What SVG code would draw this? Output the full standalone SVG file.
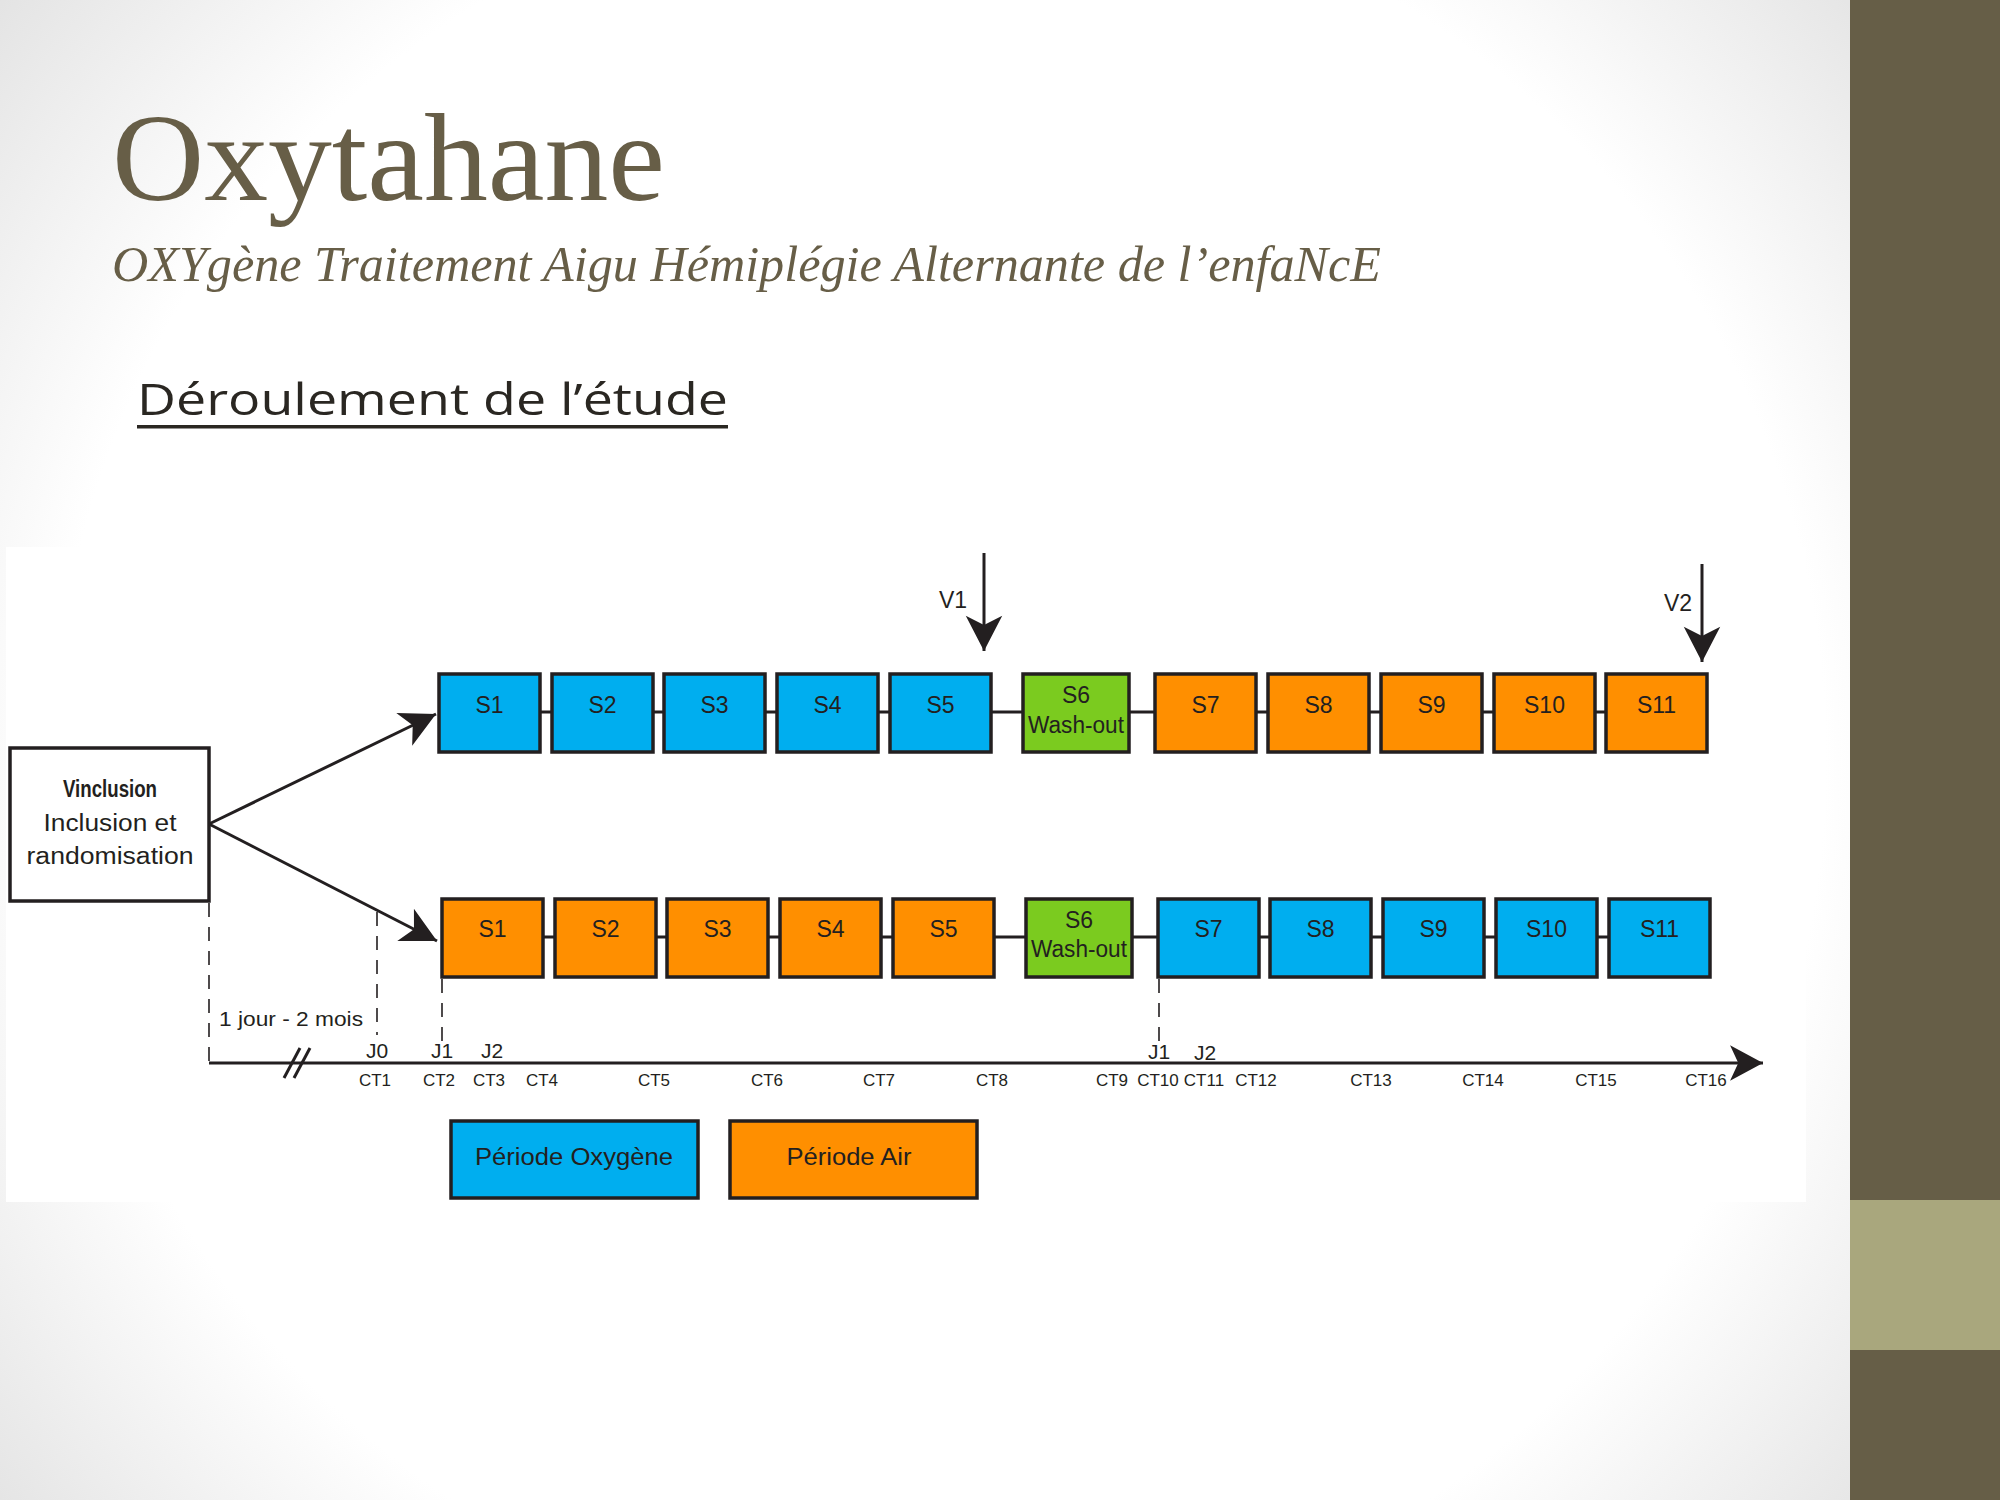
<svg xmlns="http://www.w3.org/2000/svg" width="2000" height="1500" viewBox="0 0 2000 1500">
<defs>
<radialGradient id="bg" gradientUnits="userSpaceOnUse" cx="940" cy="760" r="1230">
<stop offset="0" stop-color="#ffffff"/>
<stop offset="0.72" stop-color="#ffffff"/>
<stop offset="1" stop-color="#e2e2e2"/>
</radialGradient>
<marker id="ah" markerUnits="userSpaceOnUse" markerWidth="40" markerHeight="40" viewBox="-32 -17 34 34" refX="0" refY="0" orient="auto">
<path d="M0,0 L-30,-15.5 L-22,0 L-30,15.5 Z" fill="#231f20"/>
</marker>
<marker id="ah2" markerUnits="userSpaceOnUse" markerWidth="40" markerHeight="40" viewBox="-32 -17 34 34" refX="0" refY="0" orient="auto">
<path d="M0,0 L-28,-15 L-21,0 L-28,15 Z" fill="#231f20"/>
</marker>
<style>
.box{stroke:#231f20;stroke-width:3.5}
.ox{fill:#00aeef}
.air{fill:#ff8f00}
.wo{fill:#7bcb1f}
.lbl{font-family:"Liberation Sans Narrow","Liberation Sans",Arial,sans-serif;font-size:23px;fill:#231f20;text-anchor:middle}
.tl{font-family:"Liberation Sans Narrow","Liberation Sans",Arial,sans-serif;font-size:17px;fill:#231f20;text-anchor:middle}
.jl{font-family:"Liberation Sans Narrow","Liberation Sans",Arial,sans-serif;font-size:21px;fill:#231f20;text-anchor:middle}
.ln{stroke:#231f20;stroke-width:3;fill:none}
.dash{stroke:#231f20;stroke-width:1.6;stroke-dasharray:14 10;fill:none}
</style>
</defs>
<rect x="0" y="0" width="2000" height="1500" fill="url(#bg)"/>
<rect x="6" y="547" width="1800" height="655" fill="#ffffff"/>
<rect x="1850" y="0" width="150" height="1500" fill="#665e47"/>
<rect x="1850" y="1200" width="150" height="150" fill="#a9a77d"/>

<g id="title">
<text x="112" y="200" font-family="'Liberation Serif','Times New Roman',serif" font-size="125" fill="#675e47" textLength="553" lengthAdjust="spacingAndGlyphs">Oxytahane</text>
<text x="112" y="281" font-family="'Liberation Serif','Times New Roman',serif" font-style="italic" font-size="50" fill="#675e47" textLength="1269" lengthAdjust="spacingAndGlyphs">OXYgène Traitement Aigu Hémiplégie Alternante de l’enfaNcE</text>
<text x="137" y="415" font-family="'Open Sans','Liberation Sans',sans-serif" font-size="44" fill="#2a2722" textLength="591" lengthAdjust="spacingAndGlyphs">Déroulement de l’étude</text>
<rect x="137" y="425" width="591" height="3.5" fill="#2a2722"/>
</g>

<g id="connectors">
<line class="ln" x1="209" y1="824" x2="436" y2="714" marker-end="url(#ah)"/>
<line class="ln" x1="209" y1="824" x2="437" y2="941" marker-end="url(#ah)"/>
<line class="ln" x1="540" y1="712" x2="1606" y2="712"/>
<line class="ln" x1="543" y1="937" x2="1609" y2="937"/>
<line class="ln" stroke-width="2.5" x1="984" y1="553" x2="984" y2="651" marker-end="url(#ah)"/>
<line class="ln" stroke-width="2.5" x1="1702" y1="564" x2="1702" y2="662" marker-end="url(#ah)"/>
<line class="ln" x1="209" y1="1063" x2="1763" y2="1063" marker-end="url(#ah2)"/>
<line class="ln" stroke-width="2.5" x1="284" y1="1078" x2="300" y2="1048"/>
<line class="ln" stroke-width="2.5" x1="294" y1="1078" x2="310" y2="1048"/>
<line class="dash" x1="209" y1="903" x2="209" y2="1062"/>
<line class="dash" x1="377" y1="912" x2="377" y2="1035"/>
<line class="dash" x1="442" y1="979" x2="442" y2="1042"/>
<line class="dash" x1="1159" y1="979" x2="1159" y2="1042"/>
</g>

<g id="inclusion">
<rect x="10" y="748" width="199" height="153" fill="#ffffff" class="box"/>
<text x="110" y="797" class="lbl" font-size="24" font-weight="bold" textLength="94" lengthAdjust="spacingAndGlyphs">Vinclusion</text>
<text x="110" y="831" class="lbl" font-size="24" font-family="'Open Sans','Liberation Sans',sans-serif" textLength="133" lengthAdjust="spacingAndGlyphs">Inclusion et</text>
<text x="110" y="864" class="lbl" font-size="24" font-family="'Open Sans','Liberation Sans',sans-serif" textLength="167" lengthAdjust="spacingAndGlyphs">randomisation</text>
</g>

<g id="v1"><text x="953" y="608" class="lbl">V1</text></g>
<g id="v2"><text x="1678" y="611" class="lbl">V2</text></g>

<g id="row1">
<g id="a-s1"><rect class="box ox" x="439" y="674" width="101" height="78"/><text class="lbl" x="489.5" y="713">S1</text></g>
<g id="a-s2"><rect class="box ox" x="552" y="674" width="101" height="78"/><text class="lbl" x="602.5" y="713">S2</text></g>
<g id="a-s3"><rect class="box ox" x="664" y="674" width="101" height="78"/><text class="lbl" x="714.5" y="713">S3</text></g>
<g id="a-s4"><rect class="box ox" x="777" y="674" width="101" height="78"/><text class="lbl" x="827.5" y="713">S4</text></g>
<g id="a-s5"><rect class="box ox" x="890" y="674" width="101" height="78"/><text class="lbl" x="940.5" y="713">S5</text></g>
<g id="a-s6"><rect class="box wo" x="1023" y="674" width="106" height="78"/><text class="lbl" x="1076" y="703">S6</text><text class="lbl" x="1076" y="733" textLength="96" lengthAdjust="spacingAndGlyphs">Wash-out</text></g>
<g id="a-s7"><rect class="box air" x="1155" y="674" width="101" height="78"/><text class="lbl" x="1205.5" y="713">S7</text></g>
<g id="a-s8"><rect class="box air" x="1268" y="674" width="101" height="78"/><text class="lbl" x="1318.5" y="713">S8</text></g>
<g id="a-s9"><rect class="box air" x="1381" y="674" width="101" height="78"/><text class="lbl" x="1431.5" y="713">S9</text></g>
<g id="a-s10"><rect class="box air" x="1494" y="674" width="101" height="78"/><text class="lbl" x="1544.5" y="713">S10</text></g>
<g id="a-s11"><rect class="box air" x="1606" y="674" width="101" height="78"/><text class="lbl" x="1656.5" y="713">S11</text></g>
</g>

<g id="row2">
<g id="b-s1"><rect class="box air" x="442" y="899" width="101" height="78"/><text class="lbl" x="492.5" y="937">S1</text></g>
<g id="b-s2"><rect class="box air" x="555" y="899" width="101" height="78"/><text class="lbl" x="605.5" y="937">S2</text></g>
<g id="b-s3"><rect class="box air" x="667" y="899" width="101" height="78"/><text class="lbl" x="717.5" y="937">S3</text></g>
<g id="b-s4"><rect class="box air" x="780" y="899" width="101" height="78"/><text class="lbl" x="830.5" y="937">S4</text></g>
<g id="b-s5"><rect class="box air" x="893" y="899" width="101" height="78"/><text class="lbl" x="943.5" y="937">S5</text></g>
<g id="b-s6"><rect class="box wo" x="1026" y="899" width="106" height="78"/><text class="lbl" x="1079" y="928">S6</text><text class="lbl" x="1079" y="957" textLength="96" lengthAdjust="spacingAndGlyphs">Wash-out</text></g>
<g id="b-s7"><rect class="box ox" x="1158" y="899" width="101" height="78"/><text class="lbl" x="1208.5" y="937">S7</text></g>
<g id="b-s8"><rect class="box ox" x="1270" y="899" width="101" height="78"/><text class="lbl" x="1320.5" y="937">S8</text></g>
<g id="b-s9"><rect class="box ox" x="1383" y="899" width="101" height="78"/><text class="lbl" x="1433.5" y="937">S9</text></g>
<g id="b-s10"><rect class="box ox" x="1496" y="899" width="101" height="78"/><text class="lbl" x="1546.5" y="937">S10</text></g>
<g id="b-s11"><rect class="box ox" x="1609" y="899" width="101" height="78"/><text class="lbl" x="1659.5" y="937">S11</text></g>
</g>

<g id="timeline-labels">
<text class="jl" x="291" y="1026" font-size="22" textLength="144" lengthAdjust="spacingAndGlyphs">1 jour - 2 mois</text>
<text class="jl" x="377" y="1058">J0</text>
<text class="jl" x="442" y="1058">J1</text>
<text class="jl" x="492" y="1058">J2</text>
<text class="jl" x="1159" y="1059">J1</text>
<text class="jl" x="1205" y="1060">J2</text>
<text class="tl" x="375" y="1086">CT1</text>
<text class="tl" x="439" y="1086">CT2</text>
<text class="tl" x="489" y="1086">CT3</text>
<text class="tl" x="542" y="1086">CT4</text>
<text class="tl" x="654" y="1086">CT5</text>
<text class="tl" x="767" y="1086">CT6</text>
<text class="tl" x="879" y="1086">CT7</text>
<text class="tl" x="992" y="1086">CT8</text>
<text class="tl" x="1112" y="1086">CT9</text>
<text class="tl" x="1158" y="1086">CT10</text>
<text class="tl" x="1204" y="1086">CT11</text>
<text class="tl" x="1256" y="1086">CT12</text>
<text class="tl" x="1371" y="1086">CT13</text>
<text class="tl" x="1483" y="1086">CT14</text>
<text class="tl" x="1596" y="1086">CT15</text>
<text class="tl" x="1706" y="1086">CT16</text>
</g>

<g id="legend-oxygene"><rect class="box ox" x="451" y="1121" width="247" height="77"/><text class="lbl" x="574" y="1165" font-size="24" textLength="198" lengthAdjust="spacingAndGlyphs">Période Oxygène</text></g>
<g id="legend-air"><rect class="box air" x="730" y="1121" width="247" height="77"/><text class="lbl" x="849" y="1165" font-size="24" textLength="125" lengthAdjust="spacingAndGlyphs">Période Air</text></g>
</svg>
